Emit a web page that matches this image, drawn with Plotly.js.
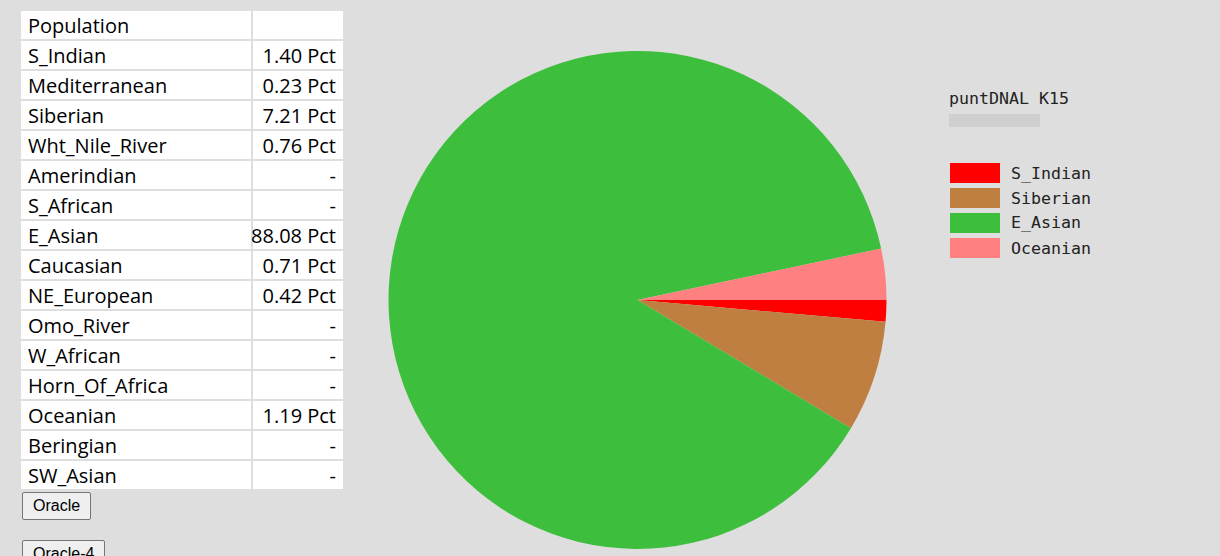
<!DOCTYPE html>
<html>
<head>
<meta charset="utf-8">
<script src="https://cdn.plot.ly/plotly-3.0.1.min.js"></script>
<style>
html,body{margin:0;padding:0;background:#dedede;width:1220px;height:556px;overflow:hidden;}
#chart{position:absolute;left:0;top:0;width:1220px;height:556px;}
.btn{position:absolute;left:22px;font-family:"Liberation Sans",Arial,sans-serif;font-size:16px;color:#000;background:#efefef;border:1px solid #767676;border-radius:2px;padding:0 10px;height:28px;line-height:24px;}
</style>
</head>
<body>
<div id="chart"></div>
<button class="btn" style="top:492px">Oracle</button>
<button class="btn" style="top:540px">Oracle-4</button>
<script>
// Table data
const tableHeader = ["Population", ""];
const populations = ["S_Indian","Mediterranean","Siberian","Wht_Nile_River","Amerindian","S_African","E_Asian","Caucasian","NE_European","Omo_River","W_African","Horn_Of_Africa","Oceanian","Beringian","SW_Asian"];
const pctText = ["1.40 Pct","0.23 Pct","7.21 Pct","0.76 Pct","-","-","88.08 Pct","0.71 Pct","0.42 Pct","-","-","-","1.19 Pct","-","-"];

// Pie data (slice sizes)
const pieLabels = ["S_Indian","Siberian","E_Asian","Oceanian"];
const pieValues = [1.40, 7.21, 88.08, 3.31];
const pieColors = ["#ff0000","#bf7f40","#3dbf3d","#ff8080"];
const chartTitle = "puntDNAL K15";

const W = 1220, H = 556;
const px = x => x / W;
const py = y => 1 - y / H;
const nb = s => s.replace(/ /g, "\u00a0");

const tableFont = {family: "Open Sans, sans-serif", size: 20, color: "#000"};
const tableTrace = {
  type: "table",
  domain: {x: [px(20), px(345)], y: [py(490), py(10)]},
  columnwidth: [233, 92],
  header: {
    values: tableHeader,
    align: ["left","right"],
    height: 30,
    fill: {color: "#ffffff"},
    line: {color: "#dedede", width: 2},
    font: tableFont
  },
  cells: {
    values: [populations, pctText.map(nb)],
    align: ["left","right"],
    height: 30,
    fill: {color: "#ffffff"},
    line: {color: "#dedede", width: 2},
    font: tableFont
  }
};

const pieTrace = {
  type: "pie",
  labels: pieLabels,
  values: pieValues,
  marker: {colors: pieColors, line: {width: 0}},
  sort: false,
  direction: "clockwise",
  rotation: 90,
  textinfo: "none",
  hoverinfo: "label+percent",
  showlegend: false,
  domain: {x: [px(388), px(887)], y: [py(549), py(51)]}
};

const shapes = [];
const annotations = [];
const monoFont = {family: "DejaVu Sans Mono, monospace", size: 16.6, color: "#222"};
annotations.push({xref:"paper", yref:"paper", x: px(947), y: py(98), xanchor:"left", yanchor:"middle", text: chartTitle, showarrow:false, font: monoFont});
// pixelated (hidden) kit id placeholder
shapes.push({type:"rect", xref:"paper", yref:"paper", x0: px(949), x1: px(1040), y0: py(127), y1: py(114), fillcolor:"#c4c4c4", opacity:0.6, line:{width:0}});
pieLabels.forEach((lab, i) => {
  const top = 163 + i * 25;
  shapes.push({type:"rect", xref:"paper", yref:"paper", x0: px(950), x1: px(1000), y0: py(top + 20), y1: py(top), fillcolor: pieColors[i], line:{width:0}});
  annotations.push({xref:"paper", yref:"paper", x: px(1009), y: py(top + 10), xanchor:"left", yanchor:"middle", text: lab, showarrow:false, font: monoFont});
});

const layout = {
  width: W, height: H,
  margin: {l:0, r:0, t:0, b:0, pad:0},
  paper_bgcolor: "#dedede",
  plot_bgcolor: "#dedede",
  showlegend: false,
  shapes: shapes,
  annotations: annotations
};

Plotly.newPlot("chart", [tableTrace, pieTrace], layout, {displayModeBar: false, staticPlot: true});
</script>
</body>
</html>
